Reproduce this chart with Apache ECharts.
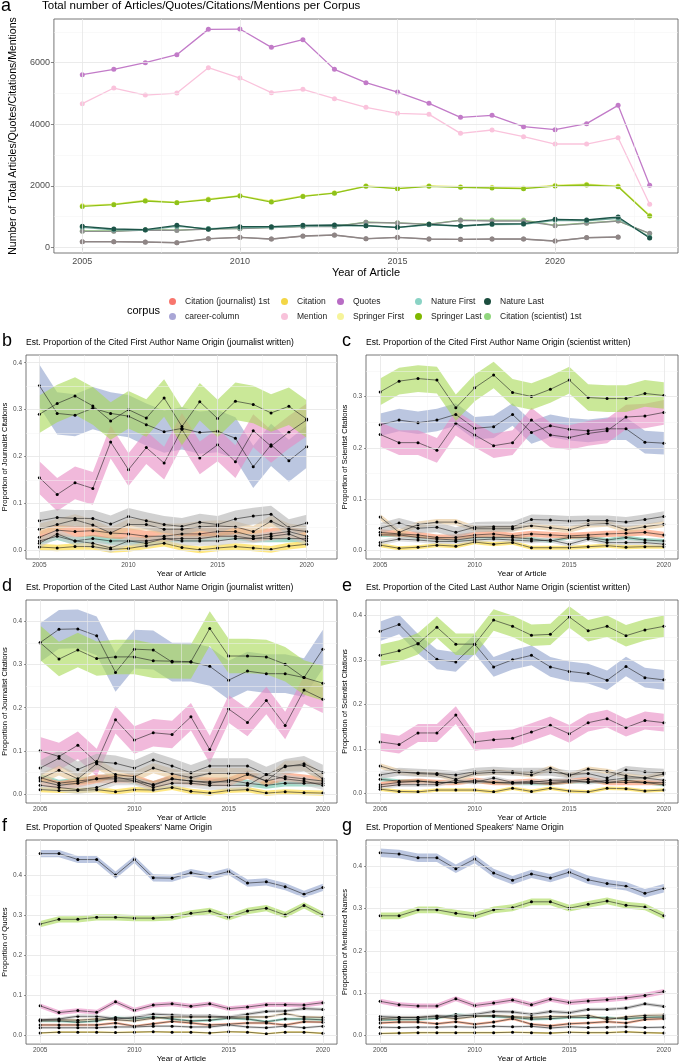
<!DOCTYPE html>
<html>
<head>
<meta charset="utf-8">
<script src="https://cdn.jsdelivr.net/npm/echarts@6/dist/echarts.min.js"></script>
<style>
  html, body { margin: 0; padding: 0; background: #fff; }
  #chart { width: 680px; height: 1064px; }
</style>
</head>
<body>
<div id="chart"></div>
<script>
// ---------- panel a: totals per corpus ----------
var yearsTop = [2005, 2006, 2007, 2008, 2009, 2010, 2011, 2012, 2013, 2014, 2015, 2016, 2017, 2018, 2019, 2020, 2021, 2022, 2023];
var quotes = [5610, 5783, 6000, 6260, 7083, 7094, 6498, 6747, 5783, 5350, 5047, 4679, 4224, 4289, 3920, 3823, 4018, 4614, 2014];
var mention = [4668, 5177, 4949, 5014, 5837, 5502, 5025, 5133, 4830, 4549, 4354, 4321, 3704, 3812, 3596, 3357, 3357, 3563, 1397];
var springerFirst = [1360, 1400, 1530, 1460, 1570, 1680, 1500, 1670, 1770, 2000, 1910, 2000, 1970, 1950, 1930, 2020, 2050, 1990, 1040];
var springerLast = [1330, 1386, 1505, 1451, 1549, 1668, 1470, 1655, 1760, 1982, 1906, 1982, 1949, 1928, 1906, 1993, 2025, 1971, 1018];
var natureFirst = [650, 570, 560, 680, 610, 640, 650, 690, 700, 700, 640, 730, 690, 740, 750, 880, 860, 940, 330];
var natureLast = [682, 595, 573, 715, 584, 670, 670, 715, 725, 703, 650, 747, 693, 758, 769, 910, 888, 985, 302];
var citationSci1st = [530, 530, 570, 560, 600, 615, 645, 680, 680, 815, 795, 755, 885, 885, 885, 715, 790, 860, 440];
var careerColumn = [520, 520, 562, 550, 595, 605, 637, 670, 670, 812, 790, 747, 877, 855, 855, 703, 780, 855, 455];
var citationJourn1st = [182, 182, 172, 150, 280, 323, 270, 367, 400, 280, 325, 270, 260, 270, 270, 205, 315, 335];
var citation = [178, 180, 168, 148, 276, 320, 268, 362, 395, 276, 320, 266, 256, 266, 266, 202, 310, 330];

// ---------- panels b-g: name origin proportions, 2005-2020 ----------
var years = [2005, 2006, 2007, 2008, 2009, 2010, 2011, 2012, 2013, 2014, 2015, 2016, 2017, 2018, 2019, 2020];
// group order: teal, salmon, blue, pink, green, yellow, tan, gray, other
var groupColors = ['#66c2a5', '#fc8d62', '#8da0cb', '#e78ac3', '#a6d854', '#ffd92f', '#e5c494', '#b3b3b3', '#cccccc'];

var bMid = [
  [0.02, 0.03, 0.02, 0.025, 0.02, 0.02, 0.02, 0.025, 0.025, 0.025, 0.03, 0.03, 0.025, 0.025, 0.025, 0.025],
  [0.028, 0.043, 0.04, 0.042, 0.037, 0.035, 0.03, 0.03, 0.035, 0.035, 0.04, 0.04, 0.03, 0.035, 0.04, 0.03],
  [0.351, 0.292, 0.288, 0.303, 0.292, 0.286, 0.268, 0.253, 0.26, 0.251, 0.254, 0.239, 0.178, 0.225, 0.191, 0.221],
  [0.155, 0.119, 0.144, 0.132, 0.231, 0.172, 0.219, 0.186, 0.258, 0.197, 0.225, 0.189, 0.255, 0.222, 0.252, 0.278],
  [0.29, 0.313, 0.329, 0.308, 0.276, 0.30, 0.282, 0.325, 0.264, 0.317, 0.281, 0.318, 0.311, 0.293, 0.307, 0.28],
  [0.007, 0.005, 0.008, 0.008, 0.002, 0.004, 0.01, 0.015, 0.006, 0.001, 0.005, 0.008, 0.005, 0.002, 0.009, 0.013],
  [0.045, 0.055, 0.065, 0.054, 0.037, 0.055, 0.055, 0.045, 0.045, 0.05, 0.052, 0.05, 0.04, 0.062, 0.045, 0.04],
  [0.063, 0.07, 0.068, 0.068, 0.056, 0.072, 0.063, 0.055, 0.051, 0.06, 0.055, 0.067, 0.073, 0.077, 0.048, 0.058],
  [0.015, 0.035, 0.02, 0.015, 0.005, 0.02, 0.015, 0.025, 0.02, 0.02, 0.02, 0.025, 0.025, 0.03, 0.035, 0.02]
];
var bHalf = [0.008, 0.012, 0.045, 0.035, 0.04, 0.007, 0.012, 0.018, 0.01];

var cMid = [
  [0.03, 0.03, 0.025, 0.022, 0.02, 0.025, 0.025, 0.025, 0.022, 0.018, 0.025, 0.025, 0.02, 0.025, 0.02, 0.018],
  [0.035, 0.032, 0.03, 0.025, 0.025, 0.03, 0.032, 0.028, 0.032, 0.03, 0.028, 0.03, 0.032, 0.033, 0.035, 0.03],
  [0.245, 0.254, 0.249, 0.254, 0.265, 0.238, 0.241, 0.265, 0.23, 0.243, 0.236, 0.233, 0.237, 0.237, 0.211, 0.209],
  [0.226, 0.21, 0.21, 0.195, 0.248, 0.225, 0.204, 0.21, 0.254, 0.225, 0.22, 0.228, 0.233, 0.26, 0.262, 0.269],
  [0.309, 0.33, 0.335, 0.332, 0.278, 0.317, 0.342, 0.308, 0.30, 0.314, 0.332, 0.298, 0.296, 0.296, 0.306, 0.302],
  [0.01, 0.004, 0.006, 0.01, 0.008, 0.016, 0.012, 0.015, 0.005, 0.005, 0.005, 0.007, 0.009, 0.006, 0.007, 0.007],
  [0.065, 0.035, 0.05, 0.055, 0.055, 0.042, 0.042, 0.042, 0.048, 0.044, 0.04, 0.05, 0.052, 0.04, 0.046, 0.051],
  [0.043, 0.053, 0.043, 0.045, 0.035, 0.045, 0.046, 0.046, 0.06, 0.059, 0.057, 0.058, 0.058, 0.055, 0.06, 0.066],
  [0.015, 0.022, 0.02, 0.017, 0.017, 0.02, 0.022, 0.02, 0.018, 0.02, 0.012, 0.022, 0.015, 0.015, 0.015, 0.012]
];
var cHalf = [0.004, 0.006, 0.022, 0.024, 0.026, 0.004, 0.006, 0.01, 0.005];

var dMid = [
  [0.038, 0.025, 0.03, 0.035, 0.04, 0.03, 0.022, 0.035, 0.03, 0.025, 0.032, 0.025, 0.02, 0.025, 0.025, 0.025],
  [0.03, 0.02, 0.025, 0.035, 0.035, 0.035, 0.02, 0.035, 0.03, 0.028, 0.028, 0.045, 0.03, 0.04, 0.035, 0.03],
  [0.351, 0.382, 0.383, 0.367, 0.282, 0.336, 0.334, 0.306, 0.306, 0.296, 0.264, 0.285, 0.279, 0.279, 0.27, 0.336],
  [0.10, 0.087, 0.113, 0.073, 0.172, 0.125, 0.142, 0.138, 0.179, 0.103, 0.197, 0.166, 0.217, 0.159, 0.241, 0.22],
  [0.351, 0.313, 0.334, 0.314, 0.318, 0.318, 0.309, 0.308, 0.307, 0.384, 0.32, 0.32, 0.318, 0.301, 0.27, 0.257],
  [0.01, 0.008, 0.008, 0.01, 0.005, 0.01, 0.009, 0.015, 0.006, 0.002, 0.008, 0.01, 0.002, 0.005, 0.003, 0.002],
  [0.035, 0.055, 0.035, 0.07, 0.045, 0.04, 0.06, 0.047, 0.038, 0.048, 0.048, 0.048, 0.03, 0.065, 0.066, 0.035],
  [0.06, 0.083, 0.057, 0.075, 0.071, 0.06, 0.079, 0.065, 0.049, 0.065, 0.065, 0.065, 0.045, 0.063, 0.07, 0.05],
  [0.02, 0.015, 0.01, 0.015, 0.03, 0.03, 0.015, 0.025, 0.025, 0.02, 0.02, 0.02, 0.045, 0.035, 0.03, 0.02]
];
var dHalf = [0.008, 0.01, 0.045, 0.032, 0.04, 0.006, 0.012, 0.018, 0.01];

var eMid = [
  [0.032, 0.028, 0.028, 0.025, 0.025, 0.027, 0.025, 0.023, 0.023, 0.022, 0.026, 0.027, 0.025, 0.03, 0.025, 0.02],
  [0.02, 0.025, 0.028, 0.025, 0.025, 0.03, 0.025, 0.025, 0.028, 0.025, 0.028, 0.032, 0.025, 0.025, 0.025, 0.025],
  [0.364, 0.379, 0.336, 0.301, 0.295, 0.335, 0.284, 0.30, 0.31, 0.284, 0.274, 0.269, 0.254, 0.285, 0.26, 0.255],
  [0.116, 0.11, 0.136, 0.136, 0.176, 0.116, 0.121, 0.124, 0.138, 0.153, 0.134, 0.159, 0.168, 0.148, 0.164, 0.159],
  [0.31, 0.32, 0.336, 0.373, 0.335, 0.335, 0.389, 0.375, 0.355, 0.357, 0.396, 0.365, 0.375, 0.354, 0.367, 0.375],
  [0.01, 0.005, 0.004, 0.008, 0.008, 0.008, 0.004, 0.012, 0.005, 0.012, 0.006, 0.004, 0.012, 0.011, 0.006, 0.008],
  [0.062, 0.049, 0.045, 0.043, 0.032, 0.045, 0.048, 0.047, 0.042, 0.057, 0.04, 0.055, 0.05, 0.04, 0.035, 0.044],
  [0.042, 0.049, 0.047, 0.045, 0.042, 0.049, 0.051, 0.049, 0.049, 0.049, 0.043, 0.045, 0.035, 0.053, 0.049, 0.047],
  [0.015, 0.02, 0.02, 0.02, 0.03, 0.025, 0.035, 0.025, 0.025, 0.03, 0.03, 0.025, 0.03, 0.035, 0.035, 0.03]
];
var eHalf = [0.004, 0.006, 0.022, 0.02, 0.024, 0.004, 0.006, 0.009, 0.005];

var fMid = [
  [0.035, 0.035, 0.032, 0.035, 0.044, 0.04, 0.045, 0.04, 0.035, 0.037, 0.042, 0.04, 0.033, 0.04, 0.04, 0.038],
  [0.025, 0.025, 0.025, 0.025, 0.03, 0.022, 0.028, 0.034, 0.03, 0.025, 0.027, 0.03, 0.03, 0.025, 0.033, 0.032],
  [0.455, 0.455, 0.44, 0.44, 0.401, 0.44, 0.394, 0.393, 0.407, 0.398, 0.41, 0.381, 0.384, 0.372, 0.353, 0.37],
  [0.073, 0.056, 0.061, 0.057, 0.083, 0.062, 0.075, 0.078, 0.072, 0.078, 0.066, 0.07, 0.076, 0.076, 0.075, 0.081],
  [0.278, 0.29, 0.29, 0.295, 0.295, 0.293, 0.293, 0.295, 0.305, 0.311, 0.295, 0.311, 0.318, 0.301, 0.325, 0.301],
  [0.005, 0.007, 0.007, 0.007, 0.006, 0.007, 0.008, 0.007, 0.007, 0.005, 0.008, 0.007, 0.003, 0.007, 0.007, 0.004],
  [0.037, 0.038, 0.037, 0.04, 0.038, 0.035, 0.042, 0.045, 0.045, 0.045, 0.044, 0.045, 0.045, 0.053, 0.045, 0.044],
  [0.038, 0.04, 0.047, 0.047, 0.04, 0.044, 0.052, 0.05, 0.048, 0.048, 0.045, 0.052, 0.059, 0.06, 0.066, 0.064],
  [0.018, 0.018, 0.018, 0.018, 0.02, 0.02, 0.022, 0.022, 0.02, 0.02, 0.025, 0.02, 0.018, 0.022, 0.018, 0.022]
];
var fHalf = [0.003, 0.003, 0.009, 0.006, 0.008, 0.002, 0.003, 0.004, 0.003];

var gMid = [
  [0.037, 0.038, 0.038, 0.041, 0.05, 0.047, 0.045, 0.043, 0.039, 0.04, 0.043, 0.043, 0.042, 0.04, 0.043, 0.044],
  [0.03, 0.032, 0.032, 0.028, 0.033, 0.027, 0.032, 0.04, 0.027, 0.023, 0.028, 0.03, 0.033, 0.03, 0.038, 0.04],
  [0.432, 0.429, 0.42, 0.42, 0.394, 0.417, 0.384, 0.367, 0.382, 0.372, 0.386, 0.368, 0.359, 0.353, 0.336, 0.348],
  [0.081, 0.073, 0.07, 0.07, 0.087, 0.071, 0.077, 0.084, 0.073, 0.086, 0.078, 0.082, 0.085, 0.089, 0.095, 0.104],
  [0.283, 0.283, 0.297, 0.297, 0.289, 0.283, 0.297, 0.302, 0.316, 0.316, 0.301, 0.31, 0.318, 0.308, 0.304, 0.283],
  [0.005, 0.006, 0.007, 0.007, 0.007, 0.007, 0.007, 0.008, 0.007, 0.006, 0.008, 0.007, 0.007, 0.009, 0.007, 0.006],
  [0.04, 0.043, 0.043, 0.045, 0.04, 0.045, 0.048, 0.045, 0.043, 0.045, 0.045, 0.048, 0.038, 0.044, 0.048, 0.049],
  [0.045, 0.043, 0.043, 0.047, 0.045, 0.05, 0.057, 0.056, 0.05, 0.057, 0.054, 0.062, 0.062, 0.065, 0.075, 0.069],
  [0.02, 0.019, 0.02, 0.02, 0.021, 0.02, 0.022, 0.021, 0.022, 0.018, 0.021, 0.019, 0.02, 0.021, 0.019, 0.02]
];
var gHalf = [0.003, 0.003, 0.01, 0.006, 0.008, 0.002, 0.003, 0.004, 0.003];

var yearTicks = [2005, 2010, 2015, 2020];
var yearMinor = [2007.5, 2012.5, 2017.5];
var propMinor = [0.05, 0.15, 0.25, 0.35, 0.45];
var countTicks = [0, 2000, 4000, 6000];
var countMinor = [1000, 3000, 5000, 7000];

var FONT = 'Liberation Sans, Arial, sans-serif';

var myChart = echarts.init(document.getElementById('chart'), null, { renderer: 'canvas' });

var grids = [
  { left: 42, top: 19, width: 636, height: 234 },
  { left: 26, top: 355, width: 311, height: 204 },
  { left: 366, top: 355, width: 312, height: 204 },
  { left: 26, top: 600, width: 311, height: 203 },
  { left: 366, top: 600, width: 312, height: 203 },
  { left: 26, top: 840, width: 311, height: 208 },
  { left: 366, top: 840, width: 312, height: 208 }
];

var panels = [
  { mid: bMid, half: bHalf, xMax: 2021.7, yMin: -0.0185, yMax: 0.4165, ticks: [0, 0.1, 0.2, 0.3, 0.4], name: 'Proportion of Journalist Citations', letter: 'b',
    title: 'Est. Proportion of the Cited First Author Name Origin (journalist written)' },
  { mid: cMid, half: cHalf, xMax: 2020.75, yMin: -0.017, yMax: 0.381, ticks: [0, 0.1, 0.2, 0.3], name: 'Proportion of Scientist Citations', letter: 'c',
    title: 'Est. Proportion of the Cited First Author Name Origin (scientist written)' },
  { mid: dMid, half: dHalf, xMax: 2020.75, yMin: -0.021, yMax: 0.450, ticks: [0, 0.1, 0.2, 0.3, 0.4], name: 'Proportion of Journalist Citations', letter: 'd',
    title: 'Est. Proportion of the Cited Last Author Name Origin (journalist written)' },
  { mid: eMid, half: eHalf, xMax: 2020.75, yMin: -0.021, yMax: 0.434, ticks: [0, 0.1, 0.2, 0.3, 0.4], name: 'Proportion of Scientist Citations', letter: 'e',
    title: 'Est. Proportion of the Cited Last Author Name Origin (scientist written)' },
  { mid: fMid, half: fHalf, xMax: 2020.75, yMin: -0.023, yMax: 0.489, ticks: [0, 0.1, 0.2, 0.3, 0.4], name: 'Proportion of Quotes', letter: 'f',
    title: "Est. Proportion of Quoted Speakers' Name Origin" },
  { mid: gMid, half: gHalf, xMax: 2020.75, yMin: -0.020, yMax: 0.462, ticks: [0, 0.1, 0.2, 0.3, 0.4], name: 'Proportion of Mentioned Names', letter: 'g',
    title: "Est. Proportion of Mentioned Speakers' Name Origin" }
];

var xAxes = [];
var yAxes = [];
var series = [];
var graphics = [];

function plain(v) { return String(v); }

function gridLines(gi, xs, xsMinor, ys, ysMinor) {
  var data = [];
  ysMinor.forEach(function (v) { data.push({ yAxis: v, lineStyle: { color: '#f3f3f3', width: 0.5 } }); });
  xsMinor.forEach(function (v) { data.push({ xAxis: v, lineStyle: { color: '#f3f3f3', width: 0.5 } }); });
  ys.forEach(function (v) { data.push({ yAxis: v, lineStyle: { color: '#e6e6e6', width: 0.8 } }); });
  xs.forEach(function (v) { data.push({ xAxis: v, lineStyle: { color: '#e6e6e6', width: 0.8 } }); });
  return {
    type: 'line', xAxisIndex: gi, yAxisIndex: gi, data: [], z: 0, silent: true,
    markLine: {
      silent: true, symbol: ['none', 'none'], label: { show: false }, animation: false,
      lineStyle: { type: 'solid' }, emphasis: { disabled: true }, data: data
    }
  };
}

// panel a axes
xAxes.push({
  type: 'value', gridIndex: 0, min: 2004.1, max: 2023.9,
  axisLine: { show: false }, splitLine: { show: false },
  axisTick: { show: true, customValues: yearTicks, length: 3, lineStyle: { color: '#333', width: 0.6 } },
  axisLabel: { customValues: yearTicks, fontSize: 9, color: '#4d4d4d', margin: 4, fontFamily: FONT, formatter: plain },
  name: 'Year of Article', nameLocation: 'middle', nameGap: 14,
  nameTextStyle: { fontSize: 11, color: '#000', fontFamily: FONT }
});
yAxes.push({
  type: 'value', gridIndex: 0, min: -185, max: 7420,
  axisLine: { show: false }, splitLine: { show: false },
  axisTick: { show: true, customValues: countTicks, length: 3, lineStyle: { color: '#333', width: 0.6 } },
  axisLabel: { customValues: countTicks, fontSize: 9, color: '#4d4d4d', margin: 4, fontFamily: FONT, formatter: plain },
  name: 'Number of Total Articles/Quotes/Citations/Mentions', nameLocation: 'middle', nameGap: 29,
  nameTextStyle: { fontSize: 10.5, color: '#000', fontFamily: FONT }
});
series.push(gridLines(0, [2005, 2010, 2015, 2020], [2007.5, 2012.5, 2017.5, 2022.5], countTicks, countMinor));

function topLine(name, vals, color, width) {
  return {
    name: name, type: 'line', xAxisIndex: 0, yAxisIndex: 0,
    data: vals.map(function (v, i) { return [yearsTop[i], v]; }),
    symbol: 'circle', symbolSize: 5, showSymbol: true,
    itemStyle: { color: color }, lineStyle: { color: color, width: width || 1.3 },
    emphasis: { disabled: true }, animation: false
  };
}
series.push(topLine('Springer First', springerFirst, '#eef08a'));
series.push(topLine('Springer Last', springerLast, '#8fc21a'));
series.push(topLine('Citation (scientist) 1st', citationSci1st, '#93cf7d'));
series.push(topLine('career-column', careerColumn, '#8f8f8f'));
series.push(topLine('Nature First', natureFirst, '#6fa89b'));
series.push(topLine('Nature Last', natureLast, '#1d5448'));
series.push(topLine('Citation', citation, '#9c9c9c'));
series.push(topLine('Citation (journalist) 1st', citationJourn1st, '#8f8585'));
series.push(topLine('Mention', mention, '#fac3dc'));
series.push(topLine('Quotes', quotes, '#c27bc8'));

// panels b-g: confidence ribbons drawn through the axes' coord()
function band(gi, lo, hi, color) {
  return {
    type: 'custom', xAxisIndex: gi, yAxisIndex: gi, silent: true, z: 1, animation: false,
    data: years.map(function (y, i) { return [y, lo[i], hi[i]]; }),
    encode: { x: 0, y: [1, 2] },
    renderItem: function (params, api) {
      if (params.dataIndex !== 0) return null;
      var pts = [];
      for (var i = 0; i < years.length; i++) pts.push(api.coord([years[i], hi[i]]));
      for (var j = years.length - 1; j >= 0; j--) pts.push(api.coord([years[j], lo[j]]));
      return { type: 'polygon', shape: { points: pts }, style: { fill: color, opacity: 0.6 } };
    }
  };
}

panels.forEach(function (p, k) {
  var gi = k + 1;
  var g = grids[gi];
  xAxes.push({
    type: 'value', gridIndex: gi, min: 2004.25, max: p.xMax,
    axisLine: { show: false }, splitLine: { show: false },
    axisTick: { show: true, customValues: yearTicks, length: 2, lineStyle: { color: '#333', width: 0.5 } },
    axisLabel: { customValues: yearTicks, fontSize: 6.5, color: '#4d4d4d', margin: 3, fontFamily: FONT, formatter: plain },
    name: 'Year of Article', nameLocation: 'middle', nameGap: 9,
    nameTextStyle: { fontSize: 8, color: '#000', fontFamily: FONT }
  });
  yAxes.push({
    type: 'value', gridIndex: gi, min: p.yMin, max: p.yMax,
    axisLine: { show: false }, splitLine: { show: false },
    axisTick: { show: true, customValues: p.ticks, length: 2, lineStyle: { color: '#333', width: 0.5 } },
    axisLabel: { customValues: p.ticks, fontSize: 6.5, color: '#4d4d4d', margin: 4, fontFamily: FONT,
      formatter: function (v) { return v.toFixed(1); } },
    name: p.name, nameLocation: 'middle', nameGap: 17,
    nameTextStyle: { fontSize: 7.5, color: '#000', fontFamily: FONT }
  });
  var minor = propMinor.filter(function (v) { return v < p.yMax - 0.005; });
  series.push(gridLines(gi, yearTicks, yearMinor, p.ticks, minor));

  p.mid.forEach(function (m, c) {
    var h = p.half[c];
    var lo = m.map(function (v) { return v - h; });
    var hi = m.map(function (v) { return v + h; });
    series.push(band(gi, lo, hi, groupColors[c]));
  });
  p.mid.forEach(function (m) {
    series.push({
      type: 'line', xAxisIndex: gi, yAxisIndex: gi, z: 3, silent: true, animation: false,
      data: m.map(function (v, i) { return [years[i], v]; }),
      symbol: 'circle', symbolSize: 3,
      itemStyle: { color: '#000' }, lineStyle: { color: '#222', width: 0.6 }
    });
  });

  graphics.push({ type: 'text', left: g.left - 24, top: g.top - 23,
    style: { text: p.letter, font: '18px ' + FONT, fill: '#000' } });
  graphics.push({ type: 'text', left: g.left, top: g.top - 17,
    style: { text: p.title, font: '8.5px ' + FONT, fill: '#000' } });
});

graphics.push({ type: 'text', left: 1, top: -3, style: { text: 'a', font: '18px ' + FONT, fill: '#000' } });
graphics.push({ type: 'text', left: 42, top: 0, style: { text: 'Total number of Articles/Quotes/Citations/Mentions per Corpus', font: '11.5px ' + FONT, fill: '#000' } });
graphics.push({ type: 'text', left: 127, top: 305, style: { text: 'corpus', font: '11px ' + FONT, fill: '#000' } });

// legend: five columns of two keys
var legendCols = [
  { left: 169, items: [['Citation (journalist) 1st', '#f8766d'], ['career-column', '#a9a6d6']] },
  { left: 281, items: [['Citation', '#f3d646'], ['Mention', '#f8c2da']] },
  { left: 337, items: [['Quotes', '#b86cc4'], ['Springer First', '#f6f49a']] },
  { left: 415, items: [['Nature First', '#8ad3c5'], ['Springer Last', '#7fb800']] },
  { left: 484, items: [['Nature Last', '#1b4d3e'], ['Citation (scientist) 1st', '#91d67e']] }
];
var legends = legendCols.map(function (col) {
  return {
    orient: 'vertical', left: col.left, top: 297, padding: 0, itemGap: 6,
    itemWidth: 7, itemHeight: 7, icon: 'circle', selectedMode: false,
    textStyle: { fontSize: 8.5, color: '#1a1a1a', fontFamily: FONT, padding: [0, 0, 0, 4] },
    data: col.items.map(function (it) { return { name: it[0], icon: 'circle', itemStyle: { color: it[1] } }; })
  };
});

var option = {
  animation: false,
  backgroundColor: '#fff',
  textStyle: { fontFamily: FONT },
  grid: grids.map(function (g) {
    return { left: g.left, top: g.top, width: g.width, height: g.height, show: true,
      borderColor: '#555', borderWidth: 0.8, backgroundColor: 'transparent' };
  }),
  legend: legends,
  xAxis: xAxes,
  yAxis: yAxes,
  series: series,
  graphic: graphics
};

myChart.setOption(option);
window.addEventListener("resize", function () {
  myChart.resize();
});
</script>
</body>
</html>
